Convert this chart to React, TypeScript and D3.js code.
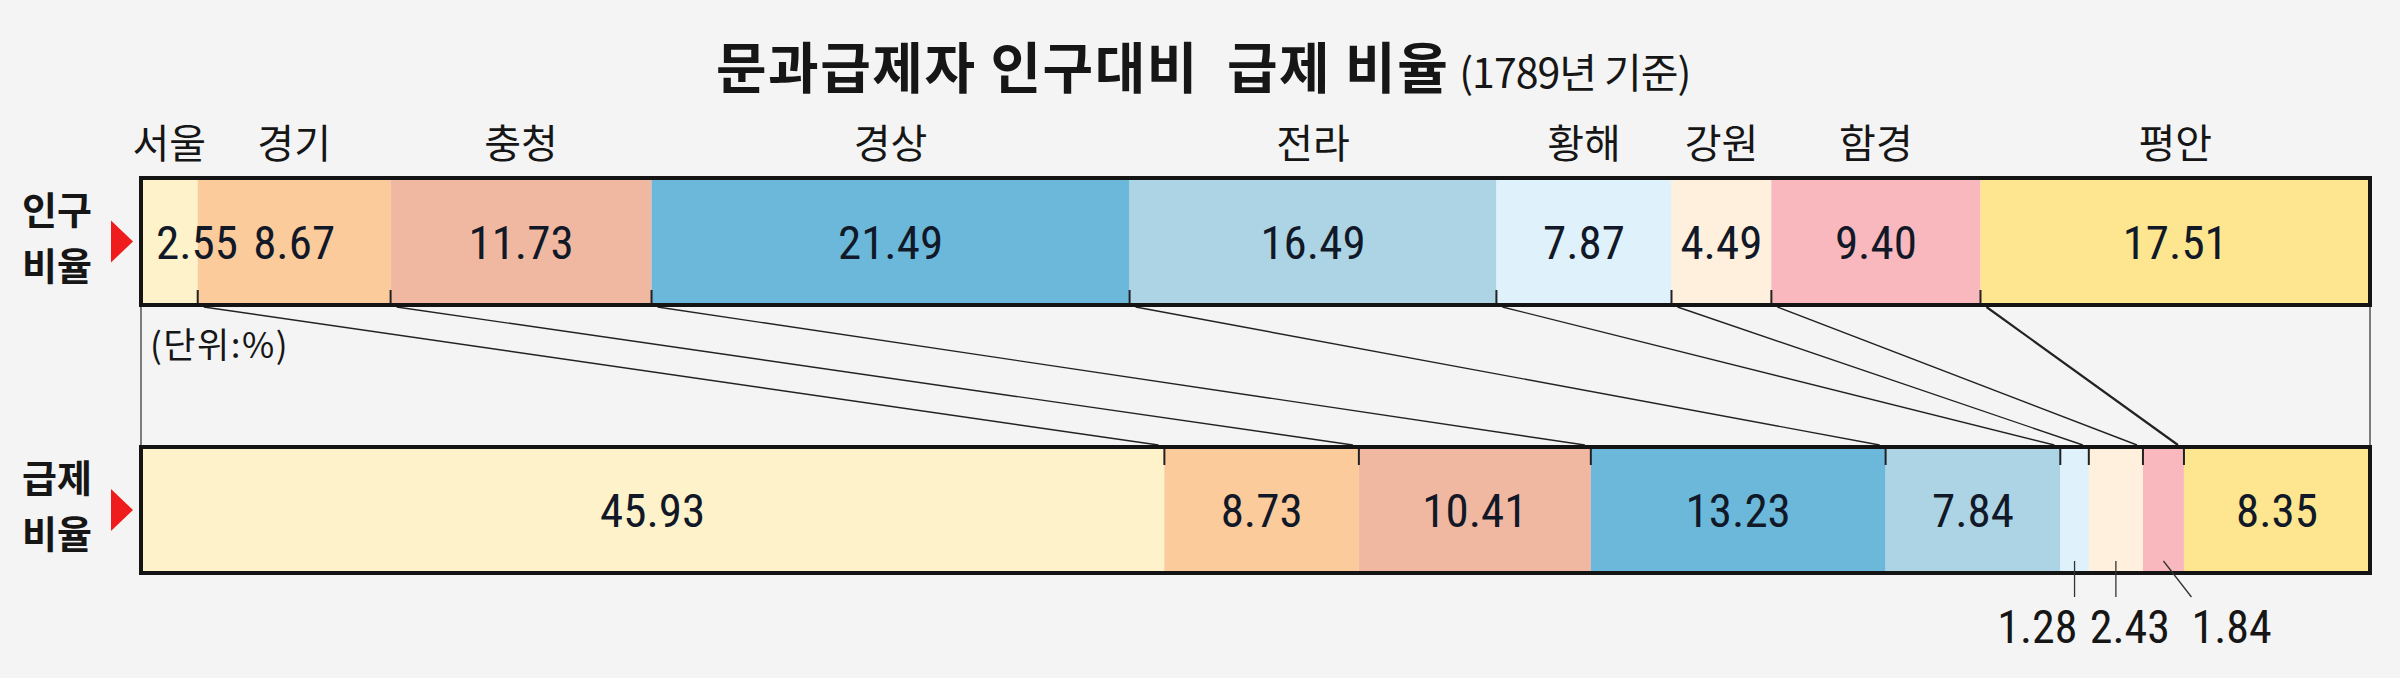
import * as d3 from 'd3';
import React from 'react';

// 1789년 기준, 단위 %
const regions = ['서울', '경기', '충청', '경상', '전라', '황해', '강원', '함경', '평안'];
const populationShare = [2.55, 8.67, 11.73, 21.49, 16.49, 7.87, 4.49, 9.4, 17.51];
const passShare = [45.93, 8.73, 10.41, 13.23, 7.84, 1.28, 2.43, 1.84, 8.35];
const regionColors = [
	'#fef2cb',
	'#fbcb9c',
	'#f1b8a1',
	'#6bb8db',
	'#acd4e5',
	'#dff1fb',
	'#fef0dc',
	'#f8b8be',
	'#fde68f',
];

const width = 2400;
const height = 678;
const barLeft = 141;
const barRight = 2370;
const topBar = { y: 178, h: 127 };
const botBar = { y: 447, h: 126 };

const numFont = "'Liberation Sans Narrow', 'Arial Narrow', 'Roboto Condensed', sans-serif";
const korFont = "'Noto Sans CJK KR', 'Noto Sans', sans-serif";
const ink = '#161616';

const stackOf = (values: number[]) => {
	const x = d3.scaleLinear().domain([0, d3.sum(values)]).range([barLeft, barRight]);
	const ends = Array.from(d3.cumsum(values));
	return values.map((v, i) => ({
		i,
		v,
		x0: x(ends[i] - v),
		x1: x(ends[i]),
	}));
};

const fmt = d3.format('.2f');

const RowLabel = ({ lines, cy }: { lines: string[]; cy: number }) => (
	<g>
		<text textAnchor="middle" fontFamily={korFont} fontWeight={700} fontSize={38} fill={ink}>
			<tspan x={57} y={cy - 18}>
				{lines[0]}
			</tspan>
			<tspan x={57} y={cy + 38}>
				{lines[1]}
			</tspan>
		</text>
		<path d={`M111,${cy - 21} L133,${cy} L111,${cy + 21} Z`} fill="#ee1c1c" />
	</g>
);

const App = () => {
	const top = stackOf(populationShare);
	const bot = stackOf(passShare);
	const topBottomY = topBar.y + topBar.h;
	const botTopY = botBar.y;

	// small slices of the lower bar get their numbers below it
	const outside = bot.filter(s => s.v < 3);
	const outsideLayout = [
		{ anchor: 'end', dx: 3, lead: 0 },
		{ anchor: 'middle', dx: 14, lead: 0 },
		{ anchor: 'start', dx: 28, lead: 28 },
	];

	return (
		<svg
			width={width}
			height={height}
			style={{ position: 'absolute', left: 0, top: 0, background: '#f4f4f4' }}
		>
			{/* title */}
			<text x={716} y={88} fontFamily={korFont} fill={ink}>
				<tspan fontWeight={700} fontSize={55} letterSpacing={1.5}>
					문과급제자 인구대비{'\u00a0\u00a0'}급제 비율
				</tspan>
				<tspan fontSize={41} dx={10} letterSpacing={-1}>
					(1789년 기준)
				</tspan>
			</text>

			{/* region names above upper bar */}
			{top.map(s => (
				<text
					key={regions[s.i]}
					x={(s.x0 + s.x1) / 2}
					y={158}
					textAnchor="middle"
					fontFamily={korFont}
					fontSize={40}
					fill={ink}
				>
					{regions[s.i]}
				</text>
			))}

			<RowLabel lines={['인구', '비율']} cy={topBar.y + topBar.h / 2} />
			<RowLabel lines={['급제', '비율']} cy={botBar.y + botBar.h / 2} />

			{/* connectors */}
			<line x1={barLeft} x2={barLeft} y1={topBottomY} y2={botTopY} stroke="#555" strokeWidth={1.5} />
			<line x1={barRight} x2={barRight} y1={topBottomY} y2={botTopY} stroke="#555" strokeWidth={1.5} />
			{top.slice(0, -1).map(s => (
				<line
					key={'c' + s.i}
					x1={s.x1 + 6}
					y1={topBottomY + 2}
					x2={bot[s.i].x1 - 6}
					y2={botTopY - 2}
					stroke="#222"
					strokeWidth={s.i === top.length - 2 ? 2.2 : 1.4}
				/>
			))}

			{/* upper bar */}
			{top.map(s => (
				<rect
					key={'t' + s.i}
					x={s.x0}
					y={topBar.y}
					width={s.x1 - s.x0}
					height={topBar.h}
					fill={regionColors[s.i]}
				/>
			))}
			{top.slice(0, -1).map(s => (
				<line
					key={'tt' + s.i}
					x1={s.x1}
					x2={s.x1}
					y1={topBottomY - 15}
					y2={topBottomY}
					stroke="#222"
					strokeWidth={2}
				/>
			))}
			<rect
				x={barLeft}
				y={topBar.y}
				width={barRight - barLeft}
				height={topBar.h}
				fill="none"
				stroke="#141414"
				strokeWidth={4}
			/>
			{top.map(s => {
				const narrow = s.x1 - s.x0 < 80;
				return (
					<text
						key={'tv' + s.i}
						x={narrow ? s.x0 + 15 : (s.x0 + s.x1) / 2}
						y={topBar.y + topBar.h / 2 + 17}
						textAnchor={narrow ? 'start' : 'middle'}
						fontFamily={numFont}
						fontSize={47}
						fill="#111827"
					>
						{fmt(s.v)}
					</text>
				);
			})}

			{/* lower bar */}
			{bot.map(s => (
				<rect
					key={'b' + s.i}
					x={s.x0}
					y={botBar.y}
					width={s.x1 - s.x0}
					height={botBar.h}
					fill={regionColors[s.i]}
				/>
			))}
			{bot.slice(0, -1).map(s => (
				<line
					key={'bt' + s.i}
					x1={s.x1}
					x2={s.x1}
					y1={botTopY}
					y2={botTopY + 18}
					stroke="#222"
					strokeWidth={2}
				/>
			))}
			<rect
				x={barLeft}
				y={botBar.y}
				width={barRight - barLeft}
				height={botBar.h}
				fill="none"
				stroke="#141414"
				strokeWidth={4}
			/>
			{bot
				.filter(s => s.v >= 3)
				.map(s => (
					<text
						key={'bv' + s.i}
						x={(s.x0 + s.x1) / 2}
						y={botBar.y + botBar.h / 2 + 17}
						textAnchor="middle"
						fontFamily={numFont}
						fontSize={47}
						fill="#111827"
					>
						{fmt(s.v)}
					</text>
				))}
			{outside.map((s, k) => {
				const cx = (s.x0 + s.x1) / 2;
				const lay = outsideLayout[k];
				return (
					<g key={'o' + s.i}>
						<line
							x1={cx}
							y1={botBar.y + botBar.h - 12}
							x2={cx + lay.lead}
							y2={botBar.y + botBar.h + 24}
							stroke="#333"
							strokeWidth={1.3}
						/>
						<text
							x={cx + lay.dx}
							y={643}
							textAnchor={lay.anchor as any}
							fontFamily={numFont}
							fontSize={46}
							fill={ink}
						>
							{fmt(s.v)}
						</text>
					</g>
				);
			})}

			<text x={150} y={358} fontFamily={korFont} fontSize={35} letterSpacing={1.5} fill={ink}>
				(단위:%)
			</text>
		</svg>
	);
};

export default App;
